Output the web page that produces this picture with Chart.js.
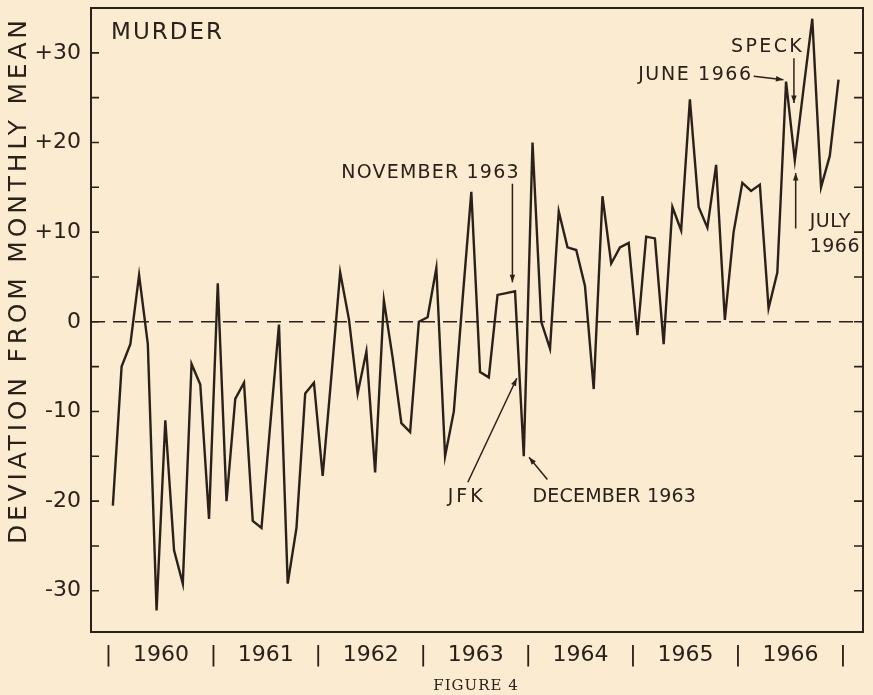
<!DOCTYPE html>
<html>
<head>
<meta charset="utf-8">
<script src="https://cdn.jsdelivr.net/npm/chart.js@4.4.0/dist/chart.umd.min.js"></script>
<style>
  html, body { margin: 0; padding: 0; background: #fffdf8; }
</style>
</head>
<body>
<canvas id="murderChart" width="873" height="695"></canvas>
<script>
// Years shown under the x axis, one block of 12 months each
const years = ['1960', '1961', '1962', '1963', '1964', '1965', '1966'];
const monthNames = ['Jan', 'Feb', 'Mar', 'Apr', 'May', 'Jun', 'Jul', 'Aug', 'Sep', 'Oct', 'Nov', 'Dec'];

// Murder: deviation from monthly mean, Jan 1960 .. Dec 1966
const dev1960 = [-20.5, -5.0, -2.5, 5.2, -2.5, -32.2, -11.0, -25.5, -29.2, -4.7, -7.0, -22.0];
const dev1961 = [4.3, -20.0, -8.6, -6.8, -22.2, -23.0, -11.5, -0.3, -29.2, -23.0, -8.0, -6.8];
const dev1962 = [-17.2, -6.0, 5.5, 0.3, -8.0, -3.3, -16.8, 2.4, -4.0, -11.3, -12.3, 0.0];
const dev1963 = [0.5, 6.0, -15.0, -10.0, 2.5, 14.5, -5.6, -6.2, 3.0, 3.2, 3.4, -15.0];
const dev1964 = [20.0, 0.0, -3.0, 12.3, 8.3, 8.0, 4.0, -7.5, 14.0, 6.5, 8.3, 8.8];
const dev1965 = [-1.5, 9.5, 9.3, -2.5, 12.8, 10.2, 24.8, 12.8, 10.5, 17.5, 0.2, 10.0];
const dev1966 = [15.5, 14.6, 15.3, 1.5, 5.5, 26.8, 18.0, 26.0, 33.8, 15.0, 18.5, 27.0];

const murderDeviation = [].concat(dev1960, dev1961, dev1962, dev1963, dev1964, dev1965, dev1966);
const monthLabels = [];
years.forEach(yr => monthNames.forEach(m => monthLabels.push(m + ' ' + yr)));

// y axis: labelled every 10, tick marks every 5
const yLabelValues = [-30, -20, -10, 0, 10, 20, 30];
const yMarkValues = [-30, -25, -20, -15, -10, -5, 0, 5, 10, 15, 20, 25, 30];

const INK = '#2a211b';
const PAPER = '#fbebd0';
const SANS = '"DejaVu Sans", "Noto Sans", sans-serif';

// Text notes and arrows, placed in data units (month index, deviation)
const notes = [
  { text: 'MURDER', x: -0.2, y: 32.2, align: 'left', size: 23, spacing: 2 },
  { text: 'NOVEMBER 1963', x: 46.4, y: 16.6, align: 'right', size: 19, spacing: 1.2 },
  { text: 'JFK', x: 40.3, y: -19.6, align: 'center', size: 19, spacing: 3 },
  { text: 'DECEMBER 1963', x: 48.0, y: -19.6, align: 'left', size: 19, spacing: 0.2 },
  { text: 'SPECK', x: 78.8, y: 30.6, align: 'right', size: 19, spacing: 2.4 },
  { text: 'JUNE 1966', x: 73.0, y: 27.5, align: 'right', size: 19, spacing: 1.6 },
  { text: 'JULY', x: 79.7, y: 11.1, align: 'left', size: 19, spacing: 0.5 },
  { text: '1966', x: 79.7, y: 8.3, align: 'left', size: 19, spacing: 0.5 }
];
const arrows = [
  { from: [45.7, 15.4], to: [45.7, 4.4] },
  { from: [40.6, -17.9], to: [46.2, -6.3] },
  { from: [49.7, -17.6], to: [47.6, -15.1] },
  { from: [77.9, 29.4], to: [77.9, 24.4] },
  { from: [73.3, 27.4], to: [76.7, 27.0] },
  { from: [78.1, 10.4], to: [78.1, 16.6] }
];

function drawArrow(ctx, x1, y1, x2, y2) {
  const ang = Math.atan2(y2 - y1, x2 - x1);
  ctx.beginPath();
  ctx.moveTo(x1, y1);
  ctx.lineTo(x2, y2);
  ctx.stroke();
  ctx.beginPath();
  ctx.moveTo(x2, y2);
  ctx.lineTo(x2 - 8 * Math.cos(ang - 0.35), y2 - 8 * Math.sin(ang - 0.35));
  ctx.lineTo(x2 - 8 * Math.cos(ang + 0.35), y2 - 8 * Math.sin(ang + 0.35));
  ctx.closePath();
  ctx.fill();
}

const paperPlugin = {
  id: 'paper',
  beforeDraw(chart) {
    const ctx = chart.ctx;
    ctx.save();
    ctx.fillStyle = PAPER;
    ctx.fillRect(0, 0, chart.width, chart.height);
    ctx.restore();
  },
  beforeDatasetsDraw(chart) {
    const { ctx, chartArea: a, scales: { y } } = chart;
    ctx.save();
    // dashed zero line
    ctx.strokeStyle = INK;
    ctx.lineWidth = 1.6;
    ctx.setLineDash([14, 8]);
    const y0 = y.getPixelForValue(0);
    ctx.beginPath();
    ctx.moveTo(a.left, y0);
    ctx.lineTo(a.right, y0);
    ctx.stroke();
    ctx.restore();
  },
  afterDraw(chart) {
    const { ctx, chartArea: a, scales: { x, y } } = chart;
    ctx.save();
    ctx.strokeStyle = INK;
    ctx.fillStyle = INK;

    // frame
    ctx.lineWidth = 2;
    ctx.strokeRect(a.left, a.top, a.right - a.left, a.bottom - a.top);

    // inner tick marks on both sides
    ctx.lineWidth = 1.6;
    yMarkValues.forEach(v => {
      const py = y.getPixelForValue(v);
      ctx.beginPath();
      ctx.moveTo(a.left, py); ctx.lineTo(a.left + 8, py);
      ctx.moveTo(a.right, py); ctx.lineTo(a.right - 9, py);
      ctx.stroke();
    });

    // notes and arrows
    ctx.textBaseline = 'middle';
    notes.forEach(n => {
      ctx.font = n.size + 'px ' + SANS;
      ctx.letterSpacing = n.spacing + 'px';
      let px = x.getPixelForValue(n.x);
      const w = ctx.measureText(n.text).width;
      // trailing spacing would shift right/center aligned text
      ctx.textAlign = 'left';
      if (n.align === 'right') px -= w - n.spacing;
      if (n.align === 'center') px -= (w - n.spacing) / 2;
      ctx.fillText(n.text, px, y.getPixelForValue(n.y));
    });
    ctx.letterSpacing = '0px';
    ctx.lineWidth = 1.5;
    arrows.forEach(ar => {
      drawArrow(ctx,
        x.getPixelForValue(ar.from[0]), y.getPixelForValue(ar.from[1]),
        x.getPixelForValue(ar.to[0]), y.getPixelForValue(ar.to[1]));
    });

    // rotated y axis title, stretched with letter spacing
    const title = 'DEVIATION FROM MONTHLY MEAN';
    ctx.save();
    ctx.translate(19, 282);
    ctx.rotate(-Math.PI / 2);
    ctx.font = '25px ' + SANS;
    ctx.letterSpacing = '0px';
    const natural = ctx.measureText(title).width;
    const sp = Math.max(0, (524 - natural) / (title.length - 1));
    ctx.letterSpacing = sp + 'px';
    ctx.textAlign = 'left';
    ctx.fillText(title, -262, 0);
    ctx.restore();

    // caption
    ctx.font = '15px "DejaVu Serif", serif';
    ctx.letterSpacing = '1px';
    ctx.textAlign = 'center';
    ctx.fillText('FIGURE 4', 476, 686);
    ctx.restore();
  }
};

const ctx = document.getElementById('murderChart').getContext('2d');
const chart = new Chart(ctx, {
  type: 'line',
  data: {
    labels: monthLabels,
    datasets: [{
      label: 'Murder',
      data: murderDeviation.map((v, i) => ({ x: i, y: v })),
      borderColor: INK,
      borderWidth: 2.4,
      pointRadius: 0,
      tension: 0,
      fill: false
    }]
  },
  options: {
    responsive: false,
    animation: false,
    layout: { padding: { top: 8, right: 10, left: 0, bottom: 0 } },
    plugins: {
      legend: { display: false },
      tooltip: { enabled: false }
    },
    scales: {
      x: {
        type: 'linear',
        min: -2.5,
        max: 85.8,
        afterFit: function(scale) {
          scale.height = 63;
          scale.paddingLeft = 0;
          scale.paddingRight = 0;
        },
        afterBuildTicks: function(scale) {
          const t = [];
          years.forEach((yr, k) => {
            t.push({ value: k * 12 - 0.5 });
            t.push({ value: k * 12 + 5.5 });
          });
          t.push({ value: years.length * 12 - 0.5 });
          scale.ticks = t;
        },
        grid: { display: false, drawTicks: false },
        border: { display: false },
        ticks: {
          autoSkip: false,
          maxRotation: 0,
          padding: 10,
          color: INK,
          font: { family: SANS, size: 22 },
          callback: function(value) {
            const k = (value - 5.5) / 12;
            if (Math.abs(k - Math.round(k)) < 0.01) {
              return years[Math.round(k)];
            }
            return '|';
          }
        }
      },
      y: {
        min: -34.6,
        max: 35,
        afterFit: function(scale) {
          scale.width = 91;
          scale.paddingTop = 0;
          scale.paddingBottom = 0;
        },
        afterBuildTicks: function(scale) {
          scale.ticks = yLabelValues.map(v => ({ value: v }));
        },
        grid: { display: false, drawTicks: false },
        border: { display: false },
        ticks: {
          padding: 10,
          color: INK,
          font: { family: SANS, size: 22 },
          callback: function(value) {
            return value > 0 ? '+' + value : String(value);
          }
        }
      }
    }
  },
  plugins: [paperPlugin]
});
</script>
</body>
</html>
